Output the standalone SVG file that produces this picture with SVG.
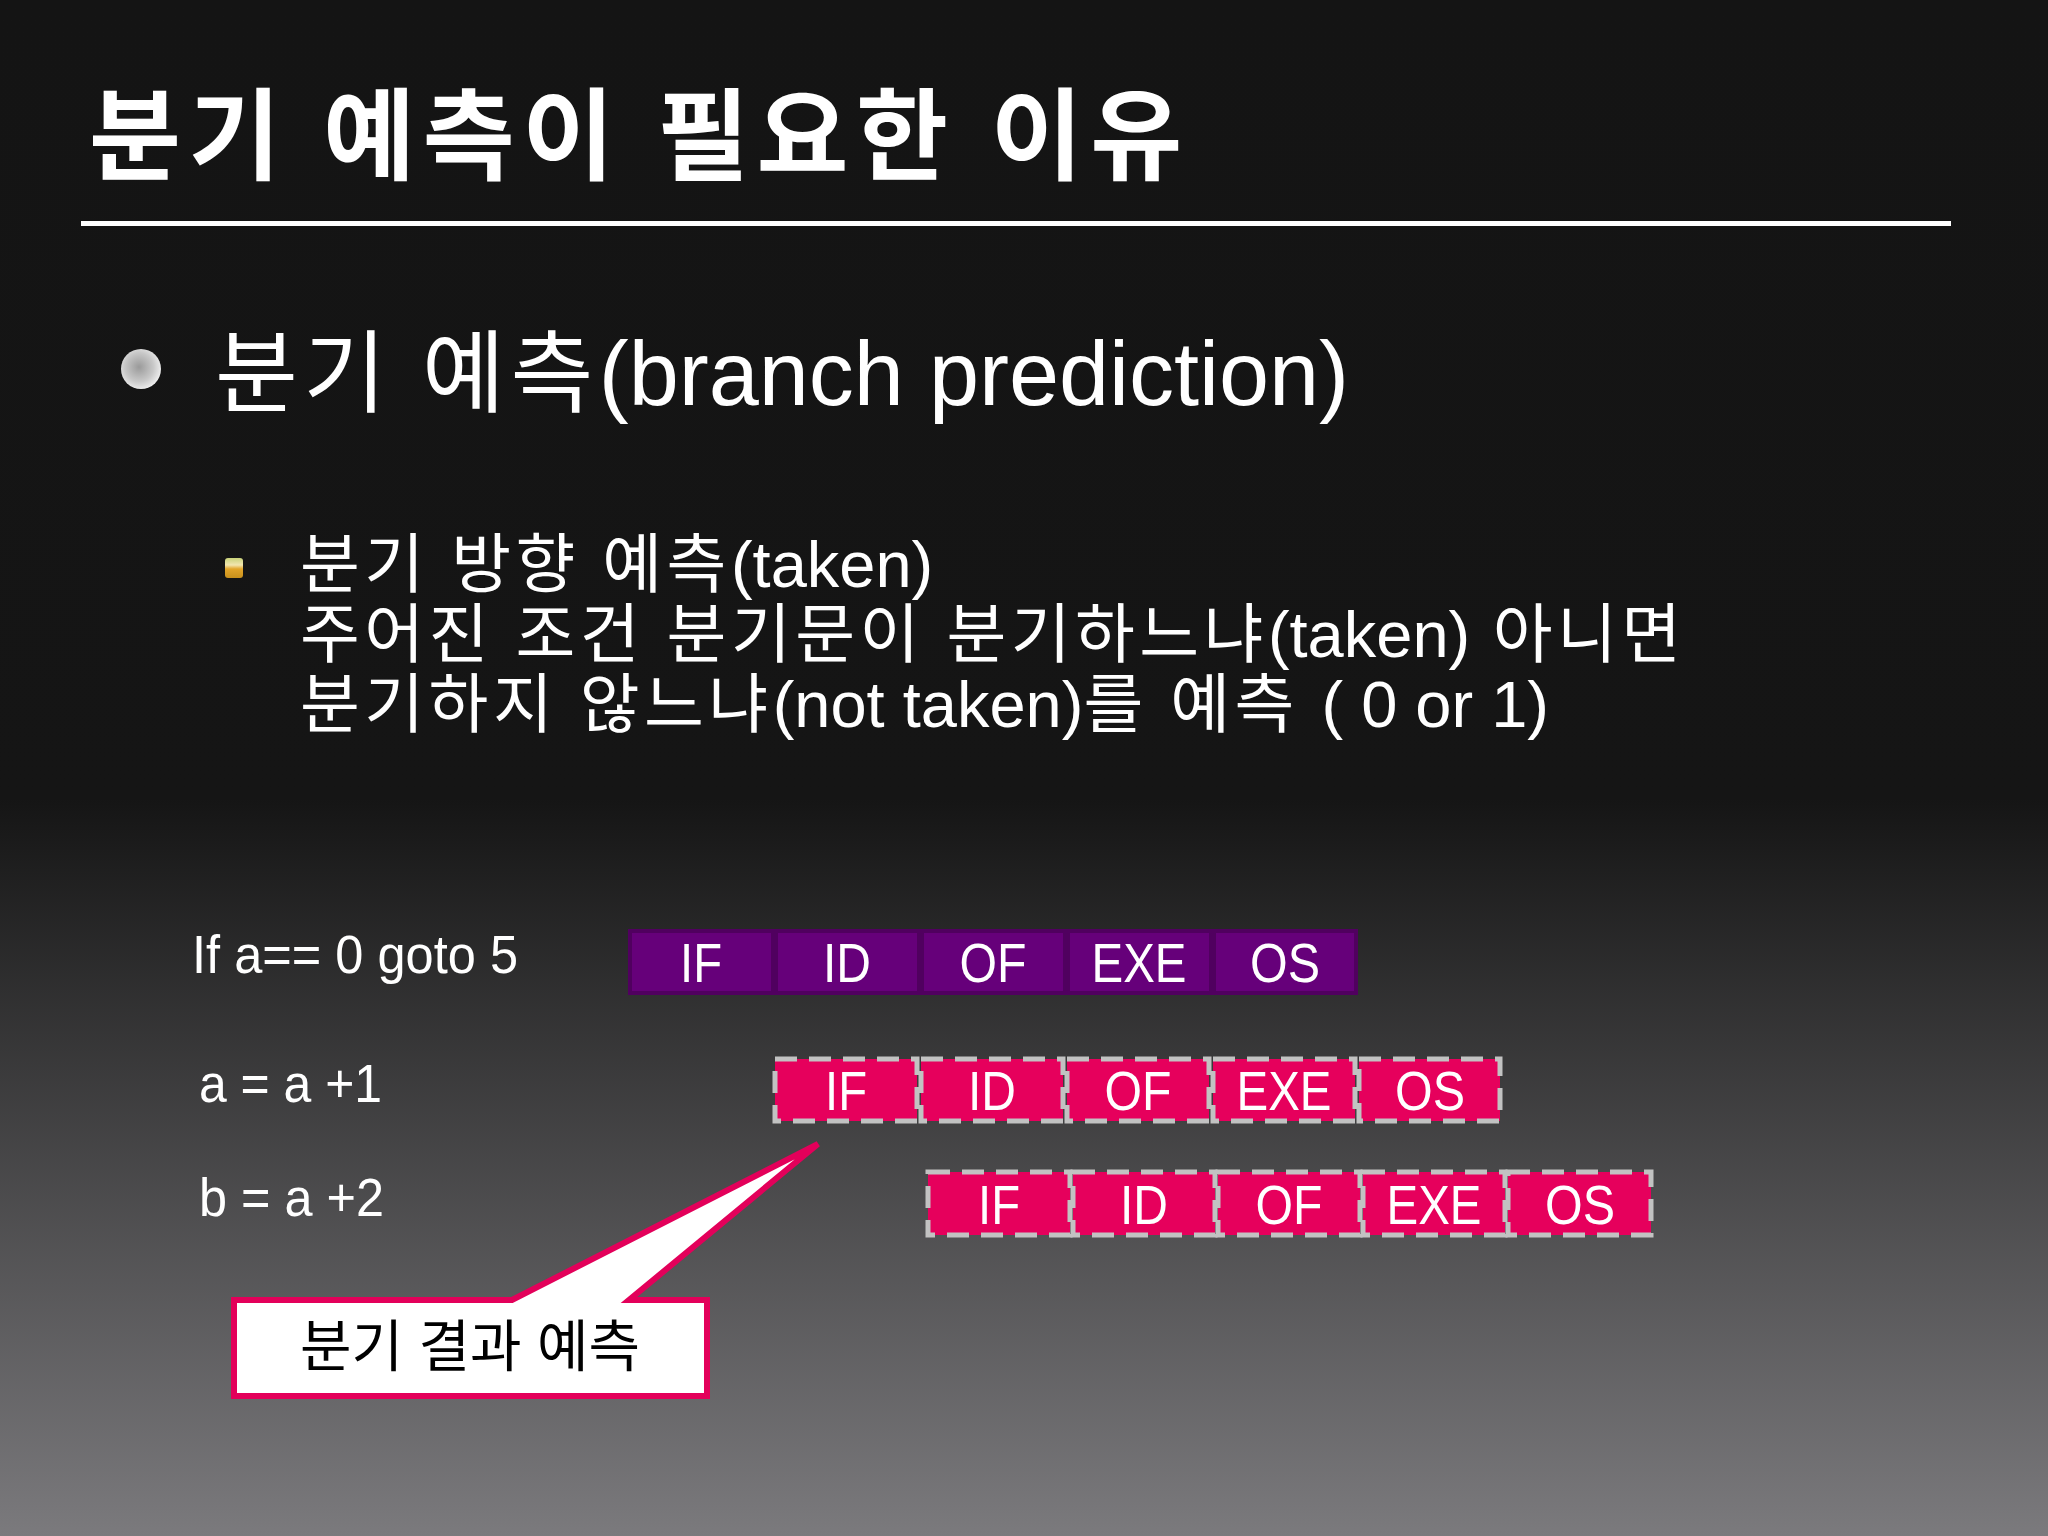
<svg xmlns="http://www.w3.org/2000/svg" width="2048" height="1536" viewBox="0 0 2048 1536">
<defs>
<linearGradient id="bg" x1="0" y1="0" x2="0" y2="1536" gradientUnits="userSpaceOnUse">
<stop offset="0" stop-color="#141414"/>
<stop offset="0.52" stop-color="#151515"/>
<stop offset="1" stop-color="#7b7a7d"/>
</linearGradient>
<radialGradient id="ball" cx="0.45" cy="0.45" r="0.6">
<stop offset="0" stop-color="#9a9a9a"/>
<stop offset="0.6" stop-color="#c8c8c8"/>
<stop offset="1" stop-color="#f4f4f4"/>
</radialGradient>
<linearGradient id="sq" x1="0" y1="0" x2="0" y2="1">
<stop offset="0" stop-color="#c9d27a"/>
<stop offset="0.35" stop-color="#f2e6b0"/>
<stop offset="0.55" stop-color="#e2a52a"/>
<stop offset="1" stop-color="#c8901c"/>
</linearGradient>
<style>
.t{font-family:"Liberation Sans","Noto Sans CJK KR",sans-serif;fill:#ffffff}
.k{letter-spacing:4.5px}
.l{letter-spacing:0px}
.cell{font-family:"Liberation Sans","Noto Sans CJK KR",sans-serif;fill:#ffffff;font-size:56px;text-anchor:middle}
.pc{fill:#66007a}
.kc{fill:#e6005c;stroke:#c2c2c2;stroke-width:5;stroke-dasharray:22 12}
</style>
</defs>
<rect x="0" y="0" width="2048" height="1536" fill="url(#bg)"/>

<g id="title">
<text class="t" x="89" y="172" font-size="100" font-weight="bold" letter-spacing="7.5">분기 예측이 필요한 이유</text>
<rect x="81" y="221" width="1870" height="5" fill="#ffffff"/>
</g>

<g id="bullet1">
<circle cx="141" cy="369" r="20" fill="url(#ball)"/>
<text class="t" x="215" y="405" font-size="90"><tspan letter-spacing="5.5">분기 예측</tspan><tspan class="l">(branch prediction)</tspan></text>
</g>

<g id="bullet2">
<rect x="225" y="558" width="18" height="20" rx="3" fill="url(#sq)"/>
<text class="t" x="300" y="587" font-size="65"><tspan class="k">분기 방향 예측</tspan><tspan class="l">(taken)</tspan></text>
<text class="t" x="300" y="657" font-size="65"><tspan class="k">주어진 조건 분기문이 분기하느냐</tspan><tspan class="l">(taken)</tspan><tspan class="k"> 아니면</tspan></text>
<text class="t" x="300" y="727" font-size="65"><tspan class="k">분기하지 않느냐</tspan><tspan class="l">(not taken)</tspan><tspan class="k">를 예측 </tspan><tspan class="l">( 0 or 1)</tspan></text>
</g>

<g id="code">
<text class="t" x="192" y="973" font-size="54" textLength="326" lengthAdjust="spacingAndGlyphs">If a== 0 goto 5</text>
<text class="t" x="199" y="1102" font-size="54" textLength="183" lengthAdjust="spacingAndGlyphs">a = a +1</text>
<text class="t" x="199" y="1216" font-size="54" textLength="185" lengthAdjust="spacingAndGlyphs">b = a +2</text>
</g>

<g id="pipeline1">
<rect x="628" y="929" width="730" height="66" fill="#50005f"/>
<rect class="pc" x="632" y="933" width="139" height="58"/>
<rect class="pc" x="778" y="933" width="139" height="58"/>
<rect class="pc" x="924" y="933" width="139" height="58"/>
<rect class="pc" x="1070" y="933" width="139" height="58"/>
<rect class="pc" x="1216" y="933" width="138" height="58"/>
<text class="cell" x="701" y="982" textLength="42" lengthAdjust="spacingAndGlyphs">IF</text>
<text class="cell" x="847" y="982" textLength="48" lengthAdjust="spacingAndGlyphs">ID</text>
<text class="cell" x="993" y="982" textLength="67" lengthAdjust="spacingAndGlyphs">OF</text>
<text class="cell" x="1139" y="982" textLength="95" lengthAdjust="spacingAndGlyphs">EXE</text>
<text class="cell" x="1285" y="982" textLength="70" lengthAdjust="spacingAndGlyphs">OS</text>
</g>

<g id="pipeline2">
<rect class="kc" x="775" y="1059" width="142" height="62"/>
<rect class="kc" x="921" y="1059" width="142" height="62"/>
<rect class="kc" x="1067" y="1059" width="142" height="62"/>
<rect class="kc" x="1213" y="1059" width="142" height="62"/>
<rect class="kc" x="1359" y="1059" width="141" height="62"/>
<text class="cell" x="846" y="1110" textLength="42" lengthAdjust="spacingAndGlyphs">IF</text>
<text class="cell" x="992" y="1110" textLength="48" lengthAdjust="spacingAndGlyphs">ID</text>
<text class="cell" x="1138" y="1110" textLength="67" lengthAdjust="spacingAndGlyphs">OF</text>
<text class="cell" x="1284" y="1110" textLength="95" lengthAdjust="spacingAndGlyphs">EXE</text>
<text class="cell" x="1430" y="1110" textLength="70" lengthAdjust="spacingAndGlyphs">OS</text>
</g>

<g id="pipeline3">
<rect class="kc" x="928" y="1172" width="142" height="63"/>
<rect class="kc" x="1073" y="1172" width="142" height="63"/>
<rect class="kc" x="1218" y="1172" width="142" height="63"/>
<rect class="kc" x="1363" y="1172" width="142" height="63"/>
<rect class="kc" x="1508" y="1172" width="143" height="63"/>
<text class="cell" x="999" y="1224" textLength="42" lengthAdjust="spacingAndGlyphs">IF</text>
<text class="cell" x="1144" y="1224" textLength="48" lengthAdjust="spacingAndGlyphs">ID</text>
<text class="cell" x="1289" y="1224" textLength="67" lengthAdjust="spacingAndGlyphs">OF</text>
<text class="cell" x="1434" y="1224" textLength="95" lengthAdjust="spacingAndGlyphs">EXE</text>
<text class="cell" x="1580" y="1224" textLength="70" lengthAdjust="spacingAndGlyphs">OS</text>
</g>

<g id="callout">
<path d="M234,1300 H512 L818,1144 L629,1300 H707 V1396 H234 Z" fill="#ffffff" stroke="#e3005a" stroke-width="6" stroke-linejoin="miter"/>
<text x="470" y="1366" font-size="56" text-anchor="middle" font-family="Liberation Sans, Noto Sans CJK KR, sans-serif" fill="#000000">분기 결과 예측</text>
</g>
</svg>
